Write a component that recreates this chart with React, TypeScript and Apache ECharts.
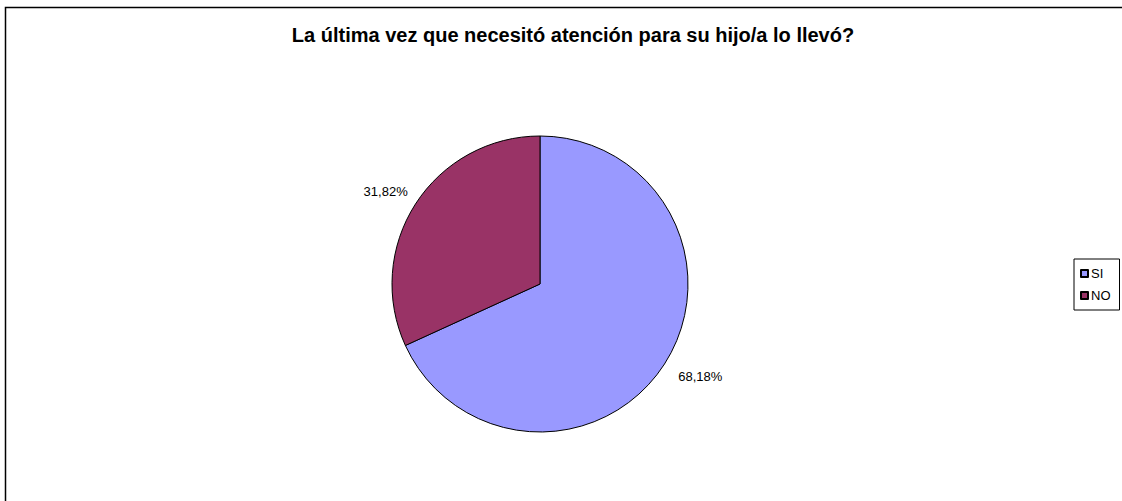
import React, { useEffect, useRef } from "react";
import * as echarts from "echarts";

const titleText = "La última vez que necesitó atención para su hijo/a lo llevó?";
const categories = ["SI", "NO"];
const values = [68.18, 31.82];
const colors = ["#9999FF", "#993366"];

export default function App() {
  const ref = useRef<HTMLDivElement>(null);
  useEffect(() => {
    const chart = echarts.init(ref.current!, null, { renderer: "svg" });
    chart.setOption({
      animation: false,
      backgroundColor: "#ffffff",
      title: {
        text: titleText,
        left: 568,
        textAlign: "center",
        top: 20,
        textStyle: { fontFamily: "Liberation Sans, Arial", fontWeight: "bold", fontSize: 20, color: "#000" },
      },
      graphic: [
        {
          type: "rect",
          shape: { x: 5.5, y: 7.5, width: 1140, height: 520 },
          style: { fill: "none", stroke: "#000", lineWidth: 1.5 },
          silent: true,
        },
      ],
      legend: {
        orient: "vertical",
        left: 1074,
        top: 259,
        width: 45,
        height: 49,
        padding: [8, 9, 8, 6],
        itemWidth: 7,
        itemHeight: 7,
        itemGap: 9,
        icon: "rect",
        borderColor: "#000",
        borderWidth: 1,
        textStyle: { fontFamily: "Liberation Sans, Arial", fontSize: 13, color: "#000", padding: [0, 0, 0, -2] },
        data: categories,
      },
      series: [
        {
          type: "pie",
          center: [540, 284],
          radius: [0, 148],
          startAngle: 90,
          clockwise: true,
          color: colors,
          itemStyle: { borderColor: "#000", borderWidth: 1 },
          label: {
            show: true,
            position: "outside",
            formatter: (p: any) => p.value.toFixed(2).replace(".", ",") + "%",
            fontFamily: "Liberation Sans, Arial",
            fontSize: 13,
            color: "#000",
          },
          labelLine: { show: false, length: 14, length2: 4 },
          labelLayout: (p: any) => (p.dataIndex === 0 ? { dx: -7, dy: 5 } : { dx: 13, dy: -5 }),
          emphasis: { disabled: true },
          data: categories.map((c, i) => ({ name: c, value: values[i] })),
        },
      ],
    });
    return () => chart.dispose();
  }, []);
  return (
    <div
      ref={ref}
      style={{ position: "fixed", left: 0, top: 0, width: 1122, height: 501 }}
    />
  );
}
